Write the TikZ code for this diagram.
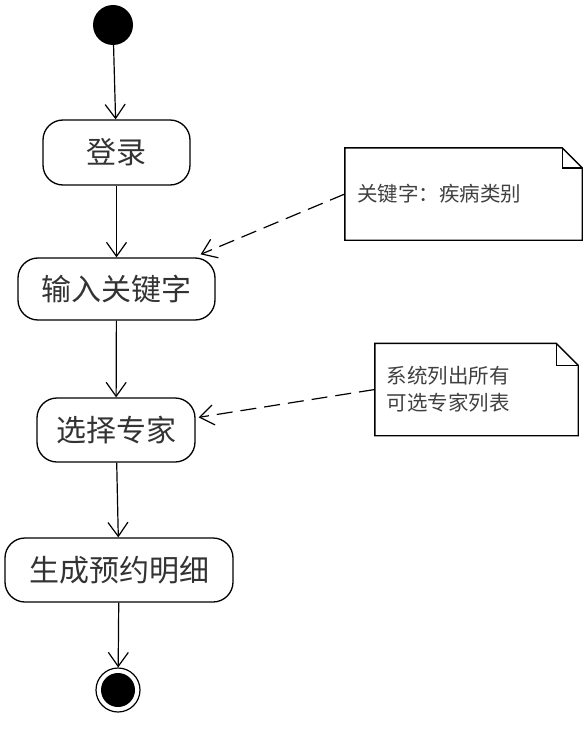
\documentclass[tikz,border=0pt]{standalone}
\usepackage{fontspec}
\newfontfamily\cjk{Noto Sans CJK SC}
\usetikzlibrary{arrows.meta}
\begin{document}
\begin{tikzpicture}[x=1pt,y=-1pt,
  act/.style={draw, line width=1.3pt, rounded corners=20pt, font=\cjk\fontsize{30}{32}\selectfont, text=black!80, inner sep=0pt},
  notebox/.style={font=\cjk\fontsize{20.5}{27}\selectfont, text=black!75, align=left, inner sep=0pt, minimum width=237pt, minimum height=92pt, text width=210pt},
  flow/.style={line width=1.2pt, -{Straight Barb[length=14pt,width=20pt,line width=1.2pt]}},
  dep/.style={line width=1.2pt, dash pattern=on 16pt off 8pt, -{Straight Barb[length=14pt,width=20pt,line width=1.2pt]}},
  fold/.style={line width=1.4pt}
]
\useasboundingbox (0,0) rectangle (582,733);
\node[circle, fill=black, minimum size=40pt, inner sep=0pt] (start) at (113,25) {};
\node[act, minimum width=147pt, minimum height=65pt] (login) at (116.5,152.5) {登录};
\node[act, minimum width=197pt, minimum height=62pt] (input) at (116.5,289) {输入关键字};
\node[act, minimum width=158pt, minimum height=64pt] (choose) at (116,430) {选择专家};
\node[act, minimum width=228pt, minimum height=64pt] (gen) at (119,570) {生成预约明细};
\node[circle, draw, line width=1.2pt, minimum size=44pt, inner sep=0pt] (end) at (118,690) {};
\fill (end.center) circle (17pt);

\node[notebox, text width=213pt] (n1) at (463.5,194) {关键字：疾病类别};
\node[notebox, minimum width=203pt, text width=180pt] (n2) at (476.5,389.5) {系统列出所有\\可选专家列表};

\draw[fold] (n1.north west) -- ([xshift=-20pt]n1.north east) -- ([yshift=-20pt]n1.north east) -- (n1.south east) -- (n1.south west) -- cycle;
\draw[fold] ([xshift=-20pt]n1.north east) |- ([yshift=-20pt]n1.north east);
\draw[fold] (n2.north west) -- ([xshift=-22pt]n2.north east) -- ([yshift=-22pt]n2.north east) -- (n2.south east) -- (n2.south west) -- cycle;
\draw[fold] ([xshift=-22pt]n2.north east) |- ([yshift=-22pt]n2.north east);

\draw[flow] (start) -- (login);
\draw[flow] (login) -- (input);
\draw[flow] (input) -- (choose);
\draw[flow] (choose) -- (gen);
\draw[flow] (gen) -- (end);

\draw[dep] (n1.west) -- ([xshift=-15pt,yshift=3pt]input.north east);
\draw[dep] (n2.west) -- ([xshift=3pt,yshift=-20pt]choose.north east);
\end{tikzpicture}
\end{document}
